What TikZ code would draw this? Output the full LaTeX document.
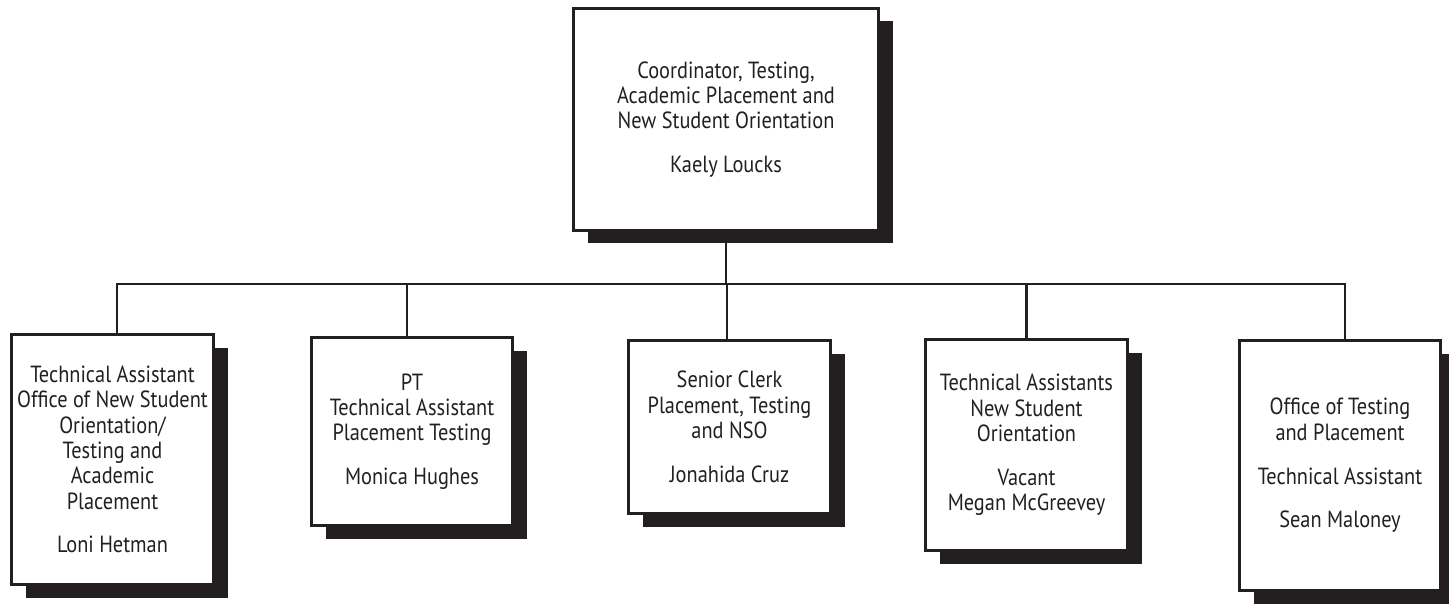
\documentclass[tikz,border=0pt]{standalone}
\usepackage{fontspec}
\setmainfont{PT Sans}[FakeStretch=0.87]
\usetikzlibrary{shadows}
\definecolor{ink}{HTML}{231F20}
\tikzset{
  x=1pt, y=-1pt,
  orgbox/.style={draw=ink, line width=3pt, fill=white, align=center, inner sep=0pt,
    font=\fontsize{23.4}{25.3}\selectfont, text=ink,
    drop shadow={shadow xshift=14pt, shadow yshift=-13pt, opacity=1, fill=ink}},
  link/.style={draw=ink, line width=2.8pt}
}
\newcommand{\gap}{\\[18.5pt]}
\begin{document}
\begin{tikzpicture}
\useasboundingbox (0,0) rectangle (1449,604);
\node[orgbox, minimum width=305pt, minimum height=222pt] (top) at (726,119.5)
  {Coordinator, Testing,\\Academic Placement and\\New Student Orientation\gap Kaely Loucks};
\node[orgbox, minimum width=202pt, minimum height=250pt] (b1) at (112.5,459.5)
  {Technical Assistant\\Office of New Student\\Orientation/\\Testing and\\Academic\\Placement\gap Loni Hetman};
\node[orgbox, minimum width=201pt, minimum height=188pt] (b2) at (412,431.5)
  {PT\\Technical Assistant\\Placement Testing\gap Monica Hughes};
\node[orgbox, minimum width=202pt, minimum height=173pt] (b3) at (729.5,427)
  {Senior Clerk\\Placement, Testing\\and NSO\gap Jonahida Cruz};
\node[orgbox, minimum width=202pt, minimum height=211pt] (b4) at (1026.5,445)
  {Technical Assistants\\New Student\\Orientation\gap Vacant\\Megan McGreevey};
\node[orgbox, minimum width=201pt, minimum height=250pt] (b5) at (1340,465.5)
  {Office of Testing\\and Placement\gap Technical Assistant\gap Sean Maloney};
\coordinate (bus) at (0,284);
\draw[link] (top.south) -- (top.south |- bus);
\draw[link, line cap=rect] ([xshift=4.5pt]b1.north |- bus) -- ([xshift=5pt]b5.north |- bus);
\draw[link] ([xshift=4.5pt]b1.north |- bus) -- ([xshift=4.5pt]b1.north);
\draw[link] ([xshift=-5pt]b2.north |- bus) -- ([xshift=-5pt]b2.north);
\draw[link] ([xshift=-2.5pt]b3.north |- bus) -- ([xshift=-2.5pt]b3.north);
\draw[link] (b4.north |- bus) -- (b4.north);
\draw[link] ([xshift=5pt]b5.north |- bus) -- ([xshift=5pt]b5.north);
\end{tikzpicture}
\end{document}
